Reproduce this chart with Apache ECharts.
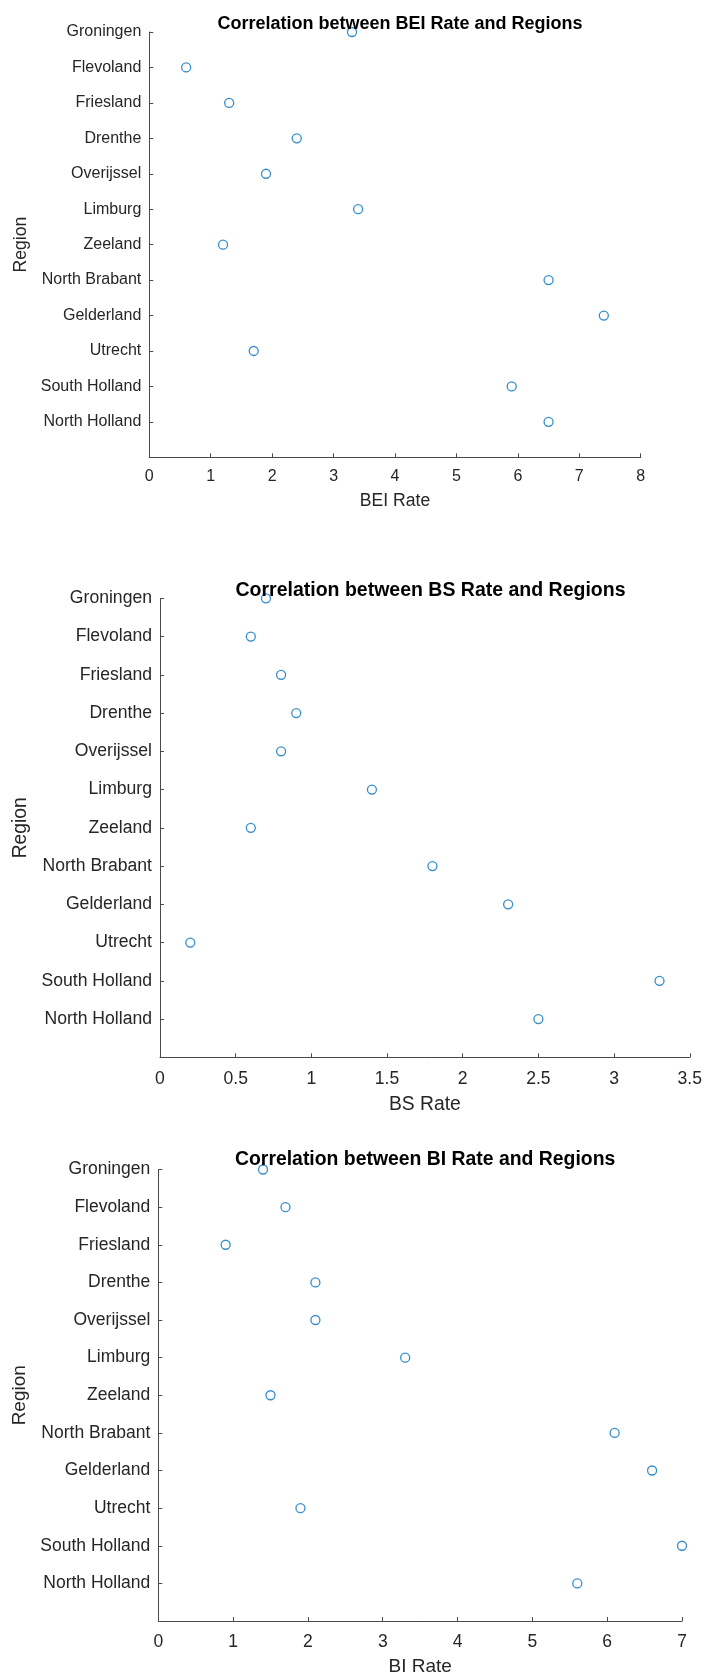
<!DOCTYPE html>
<html>
<head>
<meta charset="utf-8">
<script src="https://cdn.jsdelivr.net/npm/echarts@6/dist/echarts.min.js"></script>
<style>
html,body{margin:0;padding:0;background:#fff;}
#c{width:705px;height:1679px;}
</style>
</head>
<body>
<div id="c"></div>
<script>
// ---- data ----
const regions = ["Groningen","Flevoland","Friesland","Drenthe","Overijssel","Limburg","Zeeland","North Brabant","Gelderland","Utrecht","South Holland","North Holland"];
const beiRate = [3.3, 0.6, 1.3, 2.4, 1.9, 3.4, 1.2, 6.5, 7.4, 1.7, 5.9, 6.5];
const bsRate  = [0.7, 0.6, 0.8, 0.9, 0.8, 1.4, 0.6, 1.8, 2.3, 0.2, 3.3, 2.5];
const biRate  = [1.4, 1.7, 0.9, 2.1, 2.1, 3.3, 1.5, 6.1, 6.6, 1.9, 7.0, 5.6];
const titles = ["Correlation between BEI Rate and Regions","Correlation between BS Rate and Regions","Correlation between BI Rate and Regions"];
const xNames = ["BEI Rate","BS Rate","BI Rate"];
const yName = "Region";
const xMax = [8, 3.5, 7];
const xInterval = [1, 0.5, 1];

// ---- layout ----
const FONT = "'Liberation Sans', Arial, Helvetica, sans-serif";
const TXT = '#262626';
const AX = '#4a4a4a';
const BLUE = '#0072BD';
const layout = [
  {left:149.3, top:32,    width:491.4, height:425.3, tick:16,   lab:17.6, title:18,   titleTop:10,   xLabM:11, xGap:34.5, yGap:118},
  {left:160,   top:598.3, width:531,   height:459,   tick:17.6, lab:19.3, title:19.5, titleTop:575.5,xLabM:12.5, xGap:38, yGap:125.5},
  {left:158.3, top:1169.5,width:523.7, height:451.5, tick:17.5, lab:19,   title:19.4, titleTop:1145, xLabM:12, xGap:36, yGap:125.5}
];
const datasets = [beiRate, bsRate, biRate];
const n = regions.length;

const option = {
  backgroundColor:'#fff',
  animation:false,
  title: layout.map((L,i)=>({
    text: titles[i],
    left: L.left + L.width/2,
    top: L.titleTop,
    textAlign:'center',
    textStyle:{fontFamily:FONT, fontWeight:'bold', fontSize:L.title, color:'#000'}
  })),
  grid: layout.map(L=>({left:L.left, top:L.top, width:L.width, height:L.height, containLabel:false})),
  xAxis: layout.map((L,i)=>({
    type:'value', gridIndex:i, min:0, max:xMax[i], interval:xInterval[i],
    name:xNames[i], nameLocation:'middle', nameGap:L.xGap,
    nameTextStyle:{fontFamily:FONT, fontSize:L.lab, color:TXT},
    axisLine:{show:true, onZero:false, lineStyle:{color:AX, width:1}},
    axisTick:{show:true, inside:true, length:4, lineStyle:{color:AX}},
    axisLabel:{fontFamily:FONT, fontSize:L.tick, color:TXT, margin:L.xLabM},
    splitLine:{show:false}
  })),
  yAxis: layout.map((L,i)=>({
    type:'value', gridIndex:i, min:0, max:n, interval:1,
    name:yName, nameLocation:'middle', nameGap:L.yGap, nameRotate:90,
    nameTextStyle:{fontFamily:FONT, fontSize:L.lab, color:TXT},
    axisLine:{show:true, onZero:false, lineStyle:{color:AX, width:1}},
    axisTick:{show:true, inside:true, length:4, lineStyle:{color:AX}},
    axisLabel:{fontFamily:FONT, fontSize:L.tick, color:TXT, margin:8,
      formatter:v=> (v>=1 && v<=n) ? regions[n - v] : ''},
    splitLine:{show:false}
  })),
  series: datasets.map((d,i)=>({
    type:'scatter', xAxisIndex:i, yAxisIndex:i,
    symbol:'circle', symbolSize:9,
    itemStyle:{color:'rgba(0,0,0,0)', borderColor:BLUE, borderWidth:1.3},
    data: d.map((v,k)=>[v, n - k])
  }))
};
const chart = echarts.init(document.getElementById('c'), null, {renderer:'canvas'});
chart.setOption(option);
</script>
</body>
</html>
